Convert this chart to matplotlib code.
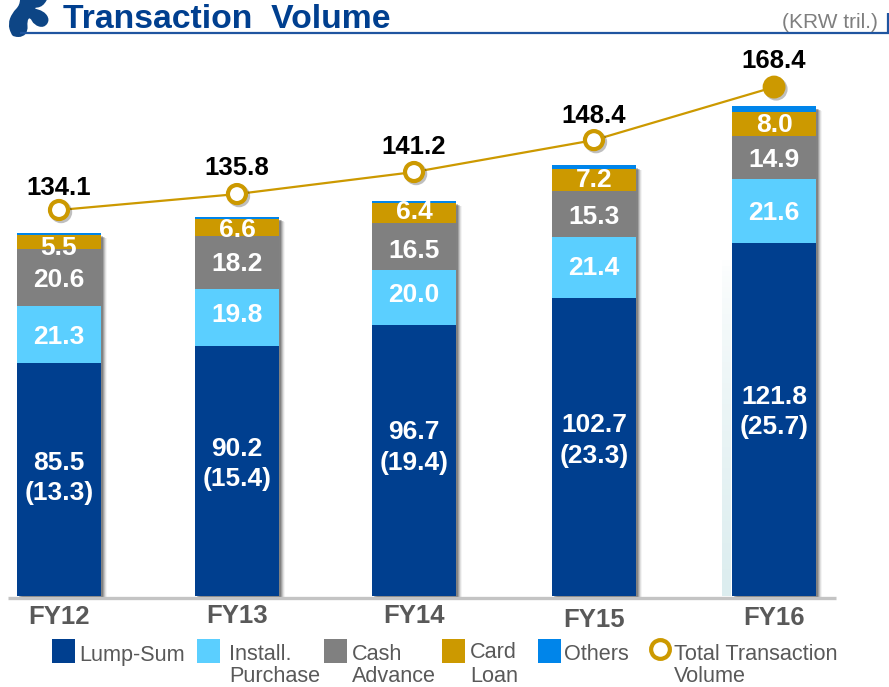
#!/usr/bin/env python3
import numpy as np
import matplotlib
matplotlib.use("Agg")
import matplotlib.pyplot as plt
from matplotlib.patches import Rectangle, PathPatch
from matplotlib.path import Path
import matplotlib.patheffects as pe

plt.rcParams['font.family'] = ['Liberation Sans', 'DejaVu Sans']

years = ["FY12", "FY13", "FY14", "FY15", "FY16"]

# printed labels
lump_labels = ["85.5\n(13.3)", "90.2\n(15.4)", "96.7\n(19.4)", "102.7\n(23.3)", "121.8\n(25.7)"]
install_labels = ["21.3", "19.8", "20.0", "21.4", "21.6"]
cash_labels = ["20.6", "18.2", "16.5", "15.3", "14.9"]
card_labels = ["5.5", "6.6", "6.4", "7.2", "8.0"]
total_labels = ["134.1", "135.8", "141.2", "148.4", "168.4"]

# drawn heights: the source slide does not draw its
# segments exactly to the printed numbers, so these differ a bit from the labels
lump = [80.3, 86.2, 93.4, 102.7, 121.8]
install = [19.7, 19.7, 19.0, 21.0, 22.1]
cash = [19.7, 18.3, 16.2, 15.9, 14.8]
card = [4.8, 5.9, 6.9, 7.6, 8.3]
others = [0.6, 0.7, 0.7, 1.4, 2.1]
total_line = [133.1, 138.6, 146.2, 157.2, 175.5]

DARK = '#003f8f'
LIGHT = '#5bcfff'
GREY = '#808080'
GOLD = '#cc9900'
BLUE = '#0085ea'
TEXT = '#595959'

W, H = 889, 687
fig = plt.figure(figsize=(W / 100, H / 100), dpi=100)

# chart axes fill the whole figure: 178.5 px per year, 2.9 px per trillion
x_scale, y_scale = 178.5, 2.9
x0, y0 = 59, 596
ax = fig.add_axes([0, 0, 1, 1])
ax.set_xlim(-x0 / x_scale, (W - x0) / x_scale)
ax.set_ylim(-(H - y0) / y_scale, y0 / y_scale)
ax.axis('off')

# second layer in plain pixels for the header and the legend
deco = fig.add_axes([0, 0, 1, 1], zorder=5)
deco.patch.set_alpha(0)
deco.axis('off')

x = np.array([0, 0.997, 1.989, 2.997, 4.006])
bar_w = 84 / x_scale
tops = np.sum([lump, install, cash, card, others], axis=0)

# pale glow left of the last bar, stronger towards the base
glow = np.zeros((64, 1, 4))
glow[..., :3] = matplotlib.colors.to_rgb('#dcedef')
glow[:, 0, 3] = np.linspace(0, 1, 64) ** 0.7
deco.imshow(glow, extent=(722, 731, 596, 255), aspect='auto', zorder=1)

deco.set_xlim(0, W)
deco.set_ylim(H, 0)

# soft shadow right of the bars
for off, a in [(6, 0.05), (5, 0.10), (4, 0.16), (3, 0.22), (2, 0.28)]:
    ax.bar(x + off / x_scale, tops - 0.6 - 0.1 * off, bar_w, bottom=-0.1 * off, color='#303030', alpha=a,
           linewidth=0, zorder=2)

bottom = np.zeros(5)
for vals, col in [(lump, DARK), (install, LIGHT), (cash, GREY), (card, GOLD), (others, BLUE)]:
    ax.bar(x, vals, bar_w, bottom=bottom, color=col, linewidth=0, zorder=3)
    bottom = bottom + np.array(vals)

# axis line
ax.plot([-51 / x_scale, (836 - x0) / x_scale], [-0.55, -0.55], color='#c4c4c4', lw=2.4, zorder=2.5,
        solid_capstyle='butt')

# segment labels, nudged in px (up is positive) to where the slide has them
nudges = [[1.5, 7, 13, 6.5, 7.5], [-2, 2, 3, 0, -2], [-3, -2, -4, -3, -3], [-6, -3, 1, 0, -1]]
bottom = np.zeros(5)
for vals, labs, nudge in zip((lump, install, cash, card),
                             (lump_labels, install_labels, cash_labels, card_labels), nudges):
    for i in range(5):
        ax.text(x[i], bottom[i] + (vals[i] * y_scale / 2 + nudge[i]) / y_scale, labs[i], color='white',
                fontsize=19, fontweight='bold', ha='center', va='center', linespacing=1.35, zorder=6)
    bottom = bottom + np.array(vals)

# total line
marker_fx = [pe.SimpleLineShadow(offset=(1.5, -1.5), alpha=0.25), pe.Normal()]
ax.plot(x, total_line, color=GOLD, lw=1.6, zorder=7)
ax.plot(x[:4], total_line[:4], ls='none', marker='o', ms=13, mfc='white', mec=GOLD, mew=3, zorder=8,
        path_effects=marker_fx)
ax.plot(x[4:], total_line[4:], ls='none', marker='o', ms=13.5, mfc=GOLD, mec=GOLD, mew=3, zorder=8,
        path_effects=marker_fx)
label_gap = [10, 14, 13, 12, 14]
for i in range(5):
    ax.annotate(total_labels[i], (x[i], total_line[i]), xytext=(0, label_gap[i]), textcoords='offset pixels',
                ha='center', va='bottom', fontsize=18.5, fontweight='bold', color='black', zorder=9)

# year labels sit at slightly uneven heights on the slide
year_y = [617, 616, 616, 620, 618]
for i, yr in enumerate(years):
    deco.text(59 + x[i] * x_scale, year_y[i], yr, ha='center', va='center', fontsize=18.5,
              fontweight='bold', color=TEXT)

# header
deco.text(63, 19.5, "Transaction  Volume", ha='left', va='center', fontsize=24.3, fontweight='bold', color=DARK)
deco.text(878, 22, "(KRW tril.)", ha='right', va='center', fontsize=15, color='#7f7f7f')
deco.plot([20, 889], [33, 33], color='#1f55a0', lw=1.6, solid_capstyle='butt')
deco.plot([888, 888], [13, 33], color='#1f55a0', lw=1.6, solid_capstyle='butt')

# logo blob, smoothed with quadratic curves through the edge midpoints
logo = [(11, 34), (8, 24), (12, 13), (20, 5), (20, -6), (50, -6), (43, 7), (32, 8), (44, 11), (50, 20),
        (44, 28), (34, 25), (30, 17), (27, 21), (28, 31), (23, 37), (14, 37)]
mids = [((a[0] + b[0]) / 2, (a[1] + b[1]) / 2) for a, b in zip(logo, logo[1:] + logo[:1])]
verts = [mids[-1]]
codes = [Path.MOVETO]
for k, p in enumerate(logo):
    verts += [p, mids[k]]
    codes += [Path.CURVE3, Path.CURVE3]
deco.add_patch(PathPatch(Path(verts, codes), fc='#0d4585', ec='none'))

# legend
for lx, ly, col in [(52, 639, DARK), (197, 639, LIGHT), (324, 639, GREY), (442, 639, GOLD), (538, 639, BLUE)]:
    deco.add_patch(Rectangle((lx, ly), 23, 24, fc=col, ec='none'))
deco.plot([660], [649], marker='o', ms=13.5, mfc='white', mec=GOLD, mew=3, ls='none')
for tx, ty, s in [(79, 655, "Lump-Sum"), (229, 654, "Install."), (229, 677, "Purchase"),
                  (352, 654, "Cash"), (352, 677, "Advance"), (470, 652, "Card"), (470, 677, "Loan"),
                  (564, 654, "Others"), (674, 654, "Total Transaction"), (674, 677, "Volume")]:
    deco.text(tx, ty, s, ha='left', va='center', fontsize=15.6, color=TEXT)

fig.savefig('out.png', dpi=100)
